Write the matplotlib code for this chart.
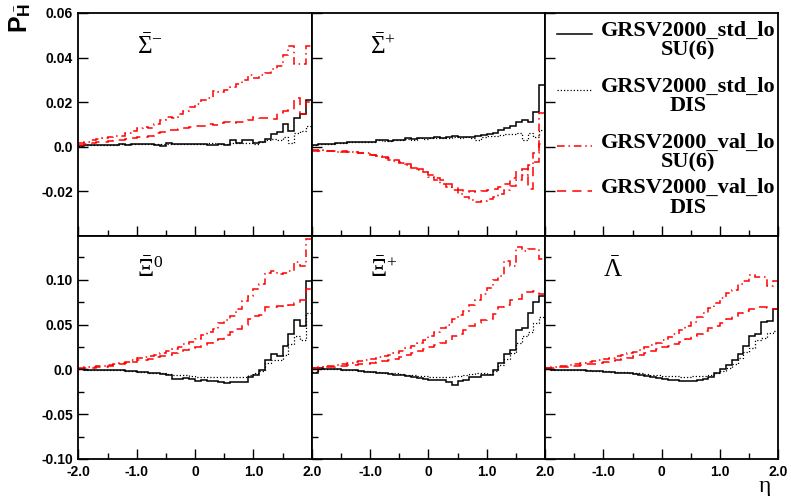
"""
Hyperon polarisation P_H versus pseudorapidity for four polarised-PDF / fragmentation
set-ups, shown as 40-bin histograms in a 2x3 grid (top-right cell holds the key).
"""

import numpy as np
import matplotlib

matplotlib.use("Agg")
import matplotlib.pyplot as plt
from matplotlib.lines import Line2D

plt.rcParams["mathtext.fontset"] = "custom"
plt.rcParams["mathtext.rm"] = "Liberation Serif"
plt.rcParams["mathtext.it"] = "Liberation Serif:italic"
plt.rcParams["mathtext.bf"] = "Liberation Sans:bold"

# bin edges in eta (40 bins of 0.1)
eta_edges = np.linspace(-2.0, 2.0, 41)

series_names = [
    "GRSV2000_std_lo\nSU(6)",
    "GRSV2000_std_lo\nDIS",
    "GRSV2000_val_lo\nSU(6)",
    "GRSV2000_val_lo\nDIS",
]

# ---- anti-Sigma^- ----
sigm_std_su6 = [
    0.0005, 0.0008, 0.0008, 0.0008, 0.0007, 0.0008, 0.0009, 0.0010, 0.0009, 0.0010,
    0.0010, 0.0011, 0.0011, 0.0009, 0.0005, 0.0015, 0.0013, 0.0012, 0.0011, 0.0012,
    0.0013, 0.0014, 0.0009, 0.0008, 0.0010, 0.0008, 0.0030, 0.0018, 0.0030, 0.0032,
    0.0018, 0.0022, 0.0035, 0.0055, 0.0065, 0.0100, 0.0070, 0.0130, 0.0145, 0.0210,
]
sigm_std_dis = [
    0.0005, 0.0007, 0.0008, 0.0008, 0.0008, 0.0008, 0.0009, 0.0010, 0.0010, 0.0010,
    0.0011, 0.0011, 0.0012, 0.0012, 0.0012, 0.0013, 0.0013, 0.0013, 0.0013, 0.0014,
    0.0014, 0.0014, 0.0015, 0.0015, 0.0012, 0.0012, 0.0016, 0.0018, 0.0015, 0.0016,
    0.0012, 0.0020, 0.0028, 0.0035, 0.0030, 0.0045, 0.0015, 0.0060, 0.0070, 0.0095,
]
sigm_val_su6 = [
    0.0015, 0.0020, 0.0030, 0.0035, 0.0040, 0.0045, 0.0050, 0.0050, 0.0060, 0.0070,
    0.0085, 0.0090, 0.0085, 0.0100, 0.0120, 0.0135, 0.0130, 0.0145, 0.0160, 0.0180,
    0.0190, 0.0210, 0.0220, 0.0250, 0.0245, 0.0255, 0.0270, 0.0280, 0.0300, 0.0320,
    0.0310, 0.0320, 0.0330, 0.0350, 0.0360, 0.0410, 0.0450, 0.0370, 0.0370, 0.0450,
]
sigm_val_dis = [
    0.0008, 0.0010, 0.0015, 0.0020, 0.0022, 0.0025, 0.0030, 0.0030, 0.0035, 0.0040,
    0.0045, 0.0045, 0.0050, 0.0060, 0.0065, 0.0075, 0.0075, 0.0080, 0.0085, 0.0090,
    0.0095, 0.0095, 0.0100, 0.0098, 0.0105, 0.0110, 0.0105, 0.0112, 0.0110, 0.0120,
    0.0135, 0.0130, 0.0128, 0.0125, 0.0150, 0.0160, 0.0165, 0.0220, 0.0145, 0.0200,
]

# ---- anti-Sigma^+ ----
sigp_std_su6 = [
    0.0007, 0.0010, 0.0012, 0.0013, 0.0017, 0.0015, 0.0020, 0.0019, 0.0021, 0.0022,
    0.0023, 0.0030, 0.0028, 0.0025, 0.0030, 0.0028, 0.0038, 0.0033, 0.0040, 0.0037,
    0.0040, 0.0042, 0.0039, 0.0042, 0.0047, 0.0042, 0.0045, 0.0042, 0.0048, 0.0052,
    0.0055, 0.0062, 0.0075, 0.0085, 0.0095, 0.0110, 0.0120, 0.0110, 0.0155, 0.0275,
]
sigp_std_dis = [
    0.0007, 0.0010, 0.0012, 0.0013, 0.0016, 0.0015, 0.0019, 0.0019, 0.0021, 0.0022,
    0.0023, 0.0028, 0.0027, 0.0025, 0.0029, 0.0028, 0.0035, 0.0032, 0.0038, 0.0036,
    0.0038, 0.0040, 0.0038, 0.0040, 0.0043, 0.0040, 0.0042, 0.0040, 0.0030, 0.0042,
    0.0048, 0.0050, 0.0052, 0.0055, 0.0058, 0.0060, 0.0030, 0.0062, 0.0045, 0.0075,
]
sigp_val_su6 = [
    -0.0020, -0.0015, -0.0018, -0.0020, -0.0022, -0.0020, -0.0025, -0.0025, -0.0030, -0.0028,
    -0.0035, -0.0042, -0.0050, -0.0058, -0.0065, -0.0072, -0.0082, -0.0095, -0.0105, -0.0115,
    -0.0135, -0.0150, -0.0165, -0.0180, -0.0195, -0.0210, -0.0225, -0.0240, -0.0250, -0.0245,
    -0.0235, -0.0225, -0.0210, -0.0195, -0.0175, -0.0150, -0.0125, -0.0080, -0.0030, 0.0150,
]
sigp_val_dis = [
    -0.0015, -0.0018, -0.0017, -0.0020, -0.0020, -0.0022, -0.0024, -0.0025, -0.0028, -0.0030,
    -0.0035, -0.0040, -0.0045, -0.0052, -0.0060, -0.0068, -0.0078, -0.0090, -0.0100, -0.0110,
    -0.0125, -0.0140, -0.0150, -0.0165, -0.0180, -0.0195, -0.0205, -0.0200, -0.0205, -0.0200,
    -0.0195, -0.0190, -0.0180, -0.0165, -0.0140, -0.0110, -0.0100, -0.0190, -0.0070, 0.0010,
]

# ---- anti-Xi^0 ----
xi0_std_su6 = [
    0.0000, -0.0002, -0.0003, -0.0005, -0.0006, -0.0008, -0.0010, -0.0008, -0.0015, -0.0020,
    -0.0025, -0.0030, -0.0040, -0.0045, -0.0050, -0.0060, -0.0110, -0.0105, -0.0100, -0.0110,
    -0.0130, -0.0120, -0.0125, -0.0130, -0.0140, -0.0150, -0.0140, -0.0135, -0.0140, -0.0085,
    -0.0060, -0.0010, 0.0110, 0.0175, 0.0155, 0.0265, 0.0400, 0.0555, 0.0485, 0.0985,
]
xi0_std_dis = [
    0.0000, -0.0002, -0.0003, -0.0005, -0.0006, -0.0008, -0.0010, -0.0010, -0.0015, -0.0020,
    -0.0025, -0.0030, -0.0035, -0.0040, -0.0045, -0.0050, -0.0060, -0.0060, -0.0065, -0.0075,
    -0.0085, -0.0080, -0.0085, -0.0085, -0.0090, -0.0088, -0.0085, -0.0085, -0.0080, -0.0060,
    -0.0045, -0.0020, 0.0070, 0.0110, 0.0110, 0.0165, 0.0280, 0.0370, 0.0330, 0.0630,
]
xi0_val_su6 = [
    0.0015, 0.0025, 0.0030, 0.0035, 0.0040, 0.0050, 0.0060, 0.0070, 0.0085, 0.0110,
    0.0130, 0.0140, 0.0150, 0.0165, 0.0180, 0.0210, 0.0230, 0.0250, 0.0280, 0.0310,
    0.0340, 0.0380, 0.0420, 0.0450, 0.0520, 0.0550, 0.0600, 0.0680, 0.0760, 0.0820,
    0.0900, 0.0950, 0.1080, 0.1100, 0.1060, 0.1080, 0.1100, 0.1200, 0.1160, 0.1460,
]
xi0_val_dis = [
    0.0010, 0.0015, 0.0020, 0.0025, 0.0030, 0.0040, 0.0050, 0.0060, 0.0070, 0.0085,
    0.0100, 0.0110, 0.0120, 0.0135, 0.0150, 0.0165, 0.0180, 0.0200, 0.0220, 0.0235,
    0.0250, 0.0275, 0.0300, 0.0325, 0.0340, 0.0380, 0.0420, 0.0450, 0.0500, 0.0560,
    0.0600, 0.0610, 0.0700, 0.0700, 0.0710, 0.0700, 0.0720, 0.0740, 0.0770, 0.0900,
]

# ---- anti-Xi^+ ----
xip_std_su6 = [
    -0.0040, 0.0020, 0.0010, 0.0005, 0.0000, -0.0005, -0.0005, -0.0010, -0.0015, -0.0025,
    -0.0030, -0.0035, -0.0040, -0.0050, -0.0065, -0.0060, -0.0075, -0.0090, -0.0100, -0.0110,
    -0.0115, -0.0120, -0.0120, -0.0140, -0.0170, -0.0130, -0.0120, -0.0090, -0.0080, -0.0065,
    -0.0060, -0.0005, 0.0070, 0.0175, 0.0220, 0.0435, 0.0460, 0.0630, 0.0750, 0.0820,
]
xip_std_dis = [
    -0.0030, 0.0020, 0.0010, 0.0005, 0.0000, -0.0005, -0.0005, -0.0010, -0.0015, -0.0020,
    -0.0025, -0.0030, -0.0035, -0.0040, -0.0045, -0.0050, -0.0060, -0.0065, -0.0070, -0.0075,
    -0.0080, -0.0080, -0.0085, -0.0080, -0.0075, -0.0075, -0.0065, -0.0055, -0.0045, -0.0040,
    -0.0050, -0.0020, 0.0050, 0.0120, 0.0180, 0.0290, 0.0370, 0.0420, 0.0520, 0.0580,
]
xip_val_su6 = [
    0.0020, 0.0030, 0.0035, 0.0040, 0.0050, 0.0060, 0.0070, 0.0080, 0.0090, 0.0105,
    0.0120, 0.0135, 0.0150, 0.0165, 0.0185, 0.0210, 0.0235, 0.0260, 0.0290, 0.0330,
    0.0370, 0.0420, 0.0460, 0.0500, 0.0560, 0.0610, 0.0650, 0.0720, 0.0770, 0.0840,
    0.0910, 0.1000, 0.1040, 0.1210, 0.1160, 0.1370, 0.1320, 0.1340, 0.1340, 0.1230,
]
xip_val_dis = [
    0.0015, 0.0020, 0.0025, 0.0030, 0.0035, 0.0040, 0.0045, 0.0050, 0.0055, 0.0062,
    0.0070, 0.0080, 0.0090, 0.0105, 0.0120, 0.0140, 0.0160, 0.0180, 0.0205, 0.0225,
    0.0245, 0.0270, 0.0300, 0.0330, 0.0370, 0.0400, 0.0440, 0.0490, 0.0520, 0.0550,
    0.0565, 0.0620, 0.0700, 0.0720, 0.0780, 0.0790, 0.0860, 0.0860, 0.0870, 0.0840,
]

# ---- anti-Lambda ----
lam_std_su6 = [
    0.0000, -0.0002, -0.0004, -0.0006, -0.0008, -0.0010, -0.0012, -0.0015, -0.0018, -0.0020,
    -0.0025, -0.0030, -0.0035, -0.0040, -0.0045, -0.0050, -0.0060, -0.0070, -0.0085, -0.0095,
    -0.0105, -0.0115, -0.0120, -0.0125, -0.0125, -0.0125, -0.0120, -0.0110, -0.0080, -0.0040,
    0.0000, 0.0053, 0.0110, 0.0175, 0.0260, 0.0370, 0.0390, 0.0530, 0.0540, 0.0670,
]
lam_std_dis = [
    0.0000, -0.0002, -0.0004, -0.0005, -0.0007, -0.0009, -0.0010, -0.0012, -0.0015, -0.0017,
    -0.0020, -0.0025, -0.0030, -0.0033, -0.0037, -0.0040, -0.0045, -0.0050, -0.0058, -0.0065,
    -0.0070, -0.0075, -0.0078, -0.0080, -0.0080, -0.0078, -0.0075, -0.0070, -0.0060, -0.0040,
    -0.0020, 0.0015, 0.0060, 0.0125, 0.0190, 0.0240, 0.0325, 0.0350, 0.0410, 0.0430,
]
lam_val_su6 = [
    0.0020, 0.0030, 0.0035, 0.0040, 0.0050, 0.0060, 0.0070, 0.0080, 0.0090, 0.0105,
    0.0120, 0.0130, 0.0145, 0.0160, 0.0180, 0.0200, 0.0220, 0.0245, 0.0270, 0.0295,
    0.0330, 0.0360, 0.0400, 0.0440, 0.0480, 0.0530, 0.0580, 0.0630, 0.0690, 0.0745,
    0.0800, 0.0850, 0.0890, 0.0950, 0.0990, 0.1050, 0.1030, 0.1030, 0.0930, 0.0990,
]
lam_val_dis = [
    0.0015, 0.0020, 0.0025, 0.0030, 0.0035, 0.0040, 0.0045, 0.0055, 0.0062, 0.0070,
    0.0080, 0.0090, 0.0100, 0.0115, 0.0130, 0.0150, 0.0165, 0.0185, 0.0205, 0.0225,
    0.0245, 0.0265, 0.0285, 0.0310, 0.0340, 0.0370, 0.0400, 0.0430, 0.0460, 0.0490,
    0.0520, 0.0560, 0.0600, 0.0630, 0.0650, 0.0670, 0.0700, 0.0700, 0.0690, 0.0680,
]

# line styles for the four set-ups (ROOT-like)
styles = [
    dict(color="black", lw=1.1, ls="-"),
    dict(color="black", lw=0.9, ls=(0, (1, 1.6))),
    dict(color="red", lw=1.1, ls=(0, (5, 2.5, 1, 2.5))),
    dict(color="red", lw=1.1, ls=(0, (6, 4))),
]

panels = [
    (0, 0, r"$\bar{\Sigma}^{-}$", [sigm_std_su6, sigm_std_dis, sigm_val_su6, sigm_val_dis]),
    (0, 1, r"$\bar{\Sigma}^{+}$", [sigp_std_su6, sigp_std_dis, sigp_val_su6, sigp_val_dis]),
    (1, 0, r"$\bar{\Xi}^{0}$", [xi0_std_su6, xi0_std_dis, xi0_val_su6, xi0_val_dis]),
    (1, 1, r"$\bar{\Xi}^{+}$", [xip_std_su6, xip_std_dis, xip_val_su6, xip_val_dis]),
    (1, 2, r"$\bar{\Lambda}$", [lam_std_su6, lam_std_dis, lam_val_su6, lam_val_dis]),
]

tick_font = dict(family="Liberation Sans", weight="bold", size=10)

fig, axes = plt.subplots(2, 3, figsize=(7.91, 4.96), dpi=100)
fig.subplots_adjust(left=0.0992, right=0.984, top=0.974, bottom=0.0746,
                    wspace=0, hspace=0)

for row in range(2):
    for col in range(3):
        ax = axes[row, col]
        ax.set_xlim(-2.0, 2.0)
        ax.set_xticks([-2, -1, 0, 1, 2])
        ax.set_xticks([-1.5, -0.5, 0.5, 1.5], minor=True)
        if row == 0:
            ax.set_ylim(-0.04, 0.06)
            ax.set_yticks([-0.02, 0.0, 0.02, 0.04, 0.06])
            ylabs = ["-0.02", "0.0", "0.02", "0.04", "0.06"]
        else:
            ax.set_ylim(-0.10, 0.149)
            ax.set_yticks([-0.10, -0.05, 0.0, 0.05, 0.10])
            ax.set_yticks([-0.075, -0.025, 0.025, 0.075, 0.125], minor=True)
            ylabs = ["-0.10", "-0.05", "0.0", "0.05", "0.10"]
        if col == 0:
            ax.set_yticklabels(ylabs, **tick_font)
        else:
            ax.set_yticklabels([])
        if row == 1:
            xlabs = ["-2.0", "-1.0", "0", "1.0", "2.0"]
            if col > 0:
                xlabs[0] = ""
            ax.set_xticklabels(xlabs, **tick_font)
        else:
            ax.set_xticklabels([])
        ax.tick_params(which="major", direction="in", length=7, width=1.0, pad=4)
        ax.tick_params(which="minor", direction="in", length=4, width=1.0)
        for sp in ax.spines.values():
            sp.set_linewidth(1.3)

for row, col, label, series in panels:
    ax = axes[row, col]
    for vals, st in zip(series, styles):
        ax.stairs(vals, eta_edges, baseline=None, **st)
    ax.text(0.25, 0.85, label, transform=ax.transAxes, ha="left", va="center",
            fontsize=18, family="Liberation Serif")

# key in the empty top-right cell
key_ax = axes[0, 2]
sample_y = [0.906, 0.655, 0.404, 0.202]
for name, st, yy in zip(series_names, styles, sample_y):
    key_ax.add_line(Line2D([0.05, 0.20], [yy, yy], transform=key_ax.transAxes, **st))
    key_ax.text(0.612, yy + 0.06, name, transform=key_ax.transAxes,
                ha="center", va="top", multialignment="center", linespacing=1.0,
                fontsize=16, family="Liberation Serif", weight="bold")

fig.text(0.026, 0.995, r"$\mathbf{P}_{\bar{\mathbf{H}}}$", rotation=90,
         ha="center", va="top", fontsize=18)
fig.text(0.967, 0.02, "η", ha="center", va="center", fontsize=17,
         family="Liberation Serif")

fig.savefig("out.png", dpi=100)
